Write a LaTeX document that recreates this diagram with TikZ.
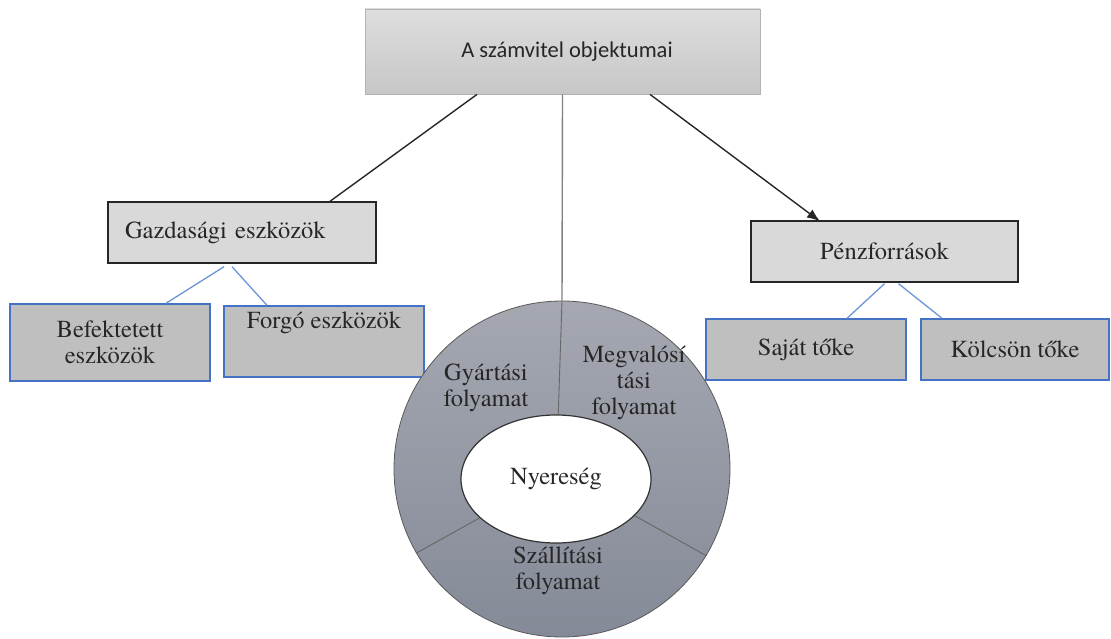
\documentclass[tikz,border=0pt]{standalone}
\usepackage{fontspec}
\newfontfamily\timesface{texgyretermes-regular.otf}
\newfontfamily\calibrifont{Carlito}
\usetikzlibrary{shapes.geometric,arrows.meta,calc}
\definecolor{boxblue}{HTML}{4472C4}
\definecolor{lineblue}{HTML}{6A95D8}
\definecolor{darkline}{HTML}{262626}
\definecolor{ringtop}{HTML}{A5A8B1}
\definecolor{ringbot}{HTML}{858A98}
\begin{document}
\begin{tikzpicture}[x=1pt,y=-1pt,
  serifstyle/.style={font=\timesface\fontsize{24.5}{26}\selectfont, text=black!85},
  graybox/.style={draw=darkline, line width=1.4pt, fill=black!15, serifstyle, inner sep=0pt},
  bluebox/.style={draw=boxblue, line width=1.4pt, fill=black!25, serifstyle, inner sep=0pt, align=center},
  blueline/.style={draw=lineblue, line width=1.3pt},
  blackline/.style={draw=darkline, line width=1.4pt},
  ringlabel/.style={serifstyle, align=center, inner sep=0pt}
]
\useasboundingbox (0,0) rectangle (1111,639);

% top box
\node[draw=black!30, line width=0.8pt, top color=black!13, bottom color=black!22,
      minimum width=395pt, minimum height=85pt, inner sep=0pt,
      font=\calibrifont\fontsize{22.5}{25}\selectfont, text=black!85]
  (top) at (562.5,51.5) {\hspace*{9pt}A számvitel objektumai};

% second level boxes
\node[graybox, minimum width=268pt, minimum height=61pt, text width=234pt, inner xsep=17pt, align=left]
  (gazd) at (242,232.5) {Gazdasági eszközök};
\node[graybox, minimum width=267pt, minimum height=61pt, align=center]
  (penz) at (884.5,251.5) {Pénzforrások};

% third level boxes
\node[bluebox, minimum width=200pt, minimum height=77pt] (bef) at (110,342.5) {Befektetett\\eszközök};
\node[bluebox, minimum width=200pt, minimum height=71pt] (forg) at (324,341.5) {Forgó eszközök\\[16pt]};
\node[bluebox, minimum width=200pt, minimum height=61pt] (sajat) at (806,349.5) {Saját tőke};
\node[bluebox, minimum width=188pt, minimum height=61pt] (kolcs) at (1015,349.5) {Kölcsön tőke};

% ring
\node[circle, draw=black!65, line width=0.8pt, top color=ringtop, bottom color=ringbot,
      minimum size=336pt, inner sep=0pt] (ring) at (562,469) {};
\node[ellipse, draw=black!80, line width=1.2pt, fill=white, minimum width=190pt,
      minimum height=128pt, inner sep=0pt, serifstyle] (nyer) at (556,479) {Nyereség};
\draw[draw=black!60, line width=0.9pt] (nyer.88) -- (ring.90);
\draw[draw=black!60, line width=0.9pt] (nyer.207) -- (ring.210);
\draw[draw=black!60, line width=0.9pt] (nyer.335) -- (ring.329);

\node[ringlabel] (gyart) at (486,388) {Gyártási\\folyamat};
\node[ringlabel] (megv) at (634,383) {Megvalósí\\tási\\folyamat};
\node[ringlabel] (szall) at (558,571) {Szállítási\\folyamat};

% connectors
\draw[blackline] ($(top.south)+(-85.5,0)$) -- ($(gazd.north)+(88,0)$);
\draw[draw=black!50, line width=1.4pt] (top.south) -- (ring.north);
\draw[blackline, -{Latex[length=13pt,width=10pt]}] ($(top.south)+(87.5,0)$) -- ($(penz.north)+(-64.5,1)$);

\draw[blueline] ($(gazd.south)+(-18,3)$) -- ($(bef.north)+(56,0)$);
\draw[blueline] ($(gazd.south)+(-10,3)$) -- ($(forg.north)+(-57,0)$);
\draw[blueline] ($(penz.south)+(0,1)$) -- ($(sajat.north)+(41,0)$);
\draw[blueline] ($(penz.south)+(14,1)$) -- ($(kolcs.north)+(-73,0)$);
\end{tikzpicture}
\end{document}
